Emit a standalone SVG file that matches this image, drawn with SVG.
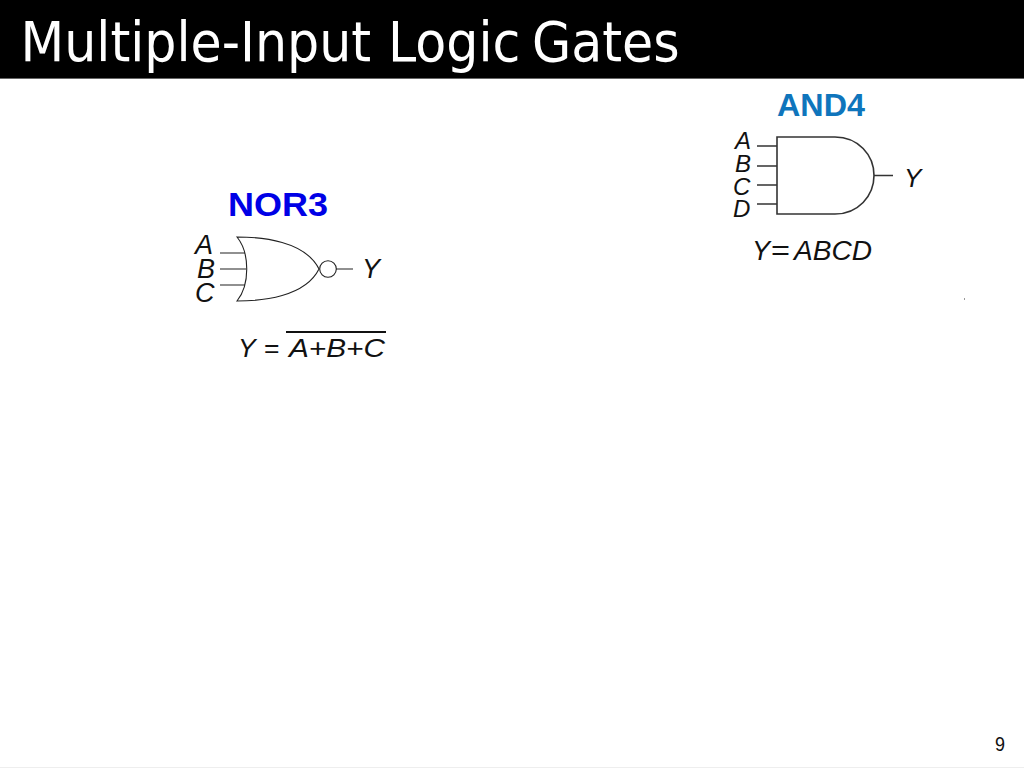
<svg xmlns="http://www.w3.org/2000/svg" width="1024" height="768" viewBox="0 0 1024 768">
<style>
.t{font-family:"Liberation Sans",Arial,sans-serif}
.i{font-family:"Liberation Sans",Arial,sans-serif;font-style:italic;fill:#111}
.n{fill:none;stroke:#222;stroke-width:1.1}
.a{fill:none;stroke:#333;stroke-width:1.6}
</style>
<rect width="1024" height="768" fill="#fff"/>
<g id="title">
<rect width="1024" height="78" fill="#000"/>
<rect y="78" width="1024" height="1" fill="#666"/>
<text transform="scale(.905,1)" y="61" font-family="'DejaVu Sans',Verdana,sans-serif" font-size="56" fill="#fff"><tspan x="22.650">Multiple-Input </tspan><tspan x="428.700">Logic </tspan><tspan x="587.800">Gates</tspan></text>
</g>
<g id="connectors">
<path class="n" d="M220 253H245M220 269H246M220 285H245M336 269H353"/>
<path class="a" d="M757 146H777M757 166H777M757 185H777M757 204H777M874 175.500H893"/>
</g>
<g id="nor3">
<text class="t" x="228" y="216" font-size="34" font-weight="700" fill="#0000e6" textLength="100" lengthAdjust="spacingAndGlyphs">NOR3</text>
<text class="i" x="195" y="254" font-size="27">A</text>
<text class="i" x="197" y="278" font-size="27">B</text>
<text class="i" x="195" y="302" font-size="27">C</text>
<path class="n" d="M237 237C262 237 305 241 319 269C305 297 262 301 237 301C250 285 250 253 237 237Z"/>
<circle class="n" cx="328" cy="269" r="8.300"/>
<text class="i" x="362" y="278" font-size="27">Y</text>
<text class="i" x="238" y="357" font-size="26.500">Y</text>
<text class="t" x="264" y="357" font-size="26.500" fill="#111">=</text>
<text class="i" x="289" y="357" font-size="26.500" textLength="96" lengthAdjust="spacingAndGlyphs">A+B+C</text>
<rect x="286" y="331" width="100" height="2" fill="#111"/>
</g>
<g id="and4">
<text class="t" x="777" y="116" font-size="32" font-weight="700" fill="#0f75bc" textLength="88" lengthAdjust="spacingAndGlyphs">AND4</text>
<text class="i" x="735" y="149" font-size="24">A</text>
<text class="i" x="735" y="172" font-size="24">B</text>
<text class="i" x="733" y="195" font-size="24">C</text>
<text class="i" x="733" y="217" font-size="24">D</text>
<path class="a" d="M777 137H835C858 137 874 155 874 175.500C874 196 858 214 835 214H777Z"/>
<text class="i" x="904" y="187" font-size="26">Y</text>
<text class="i" x="752" y="260" font-size="27">Y</text>
<text class="t" x="771" y="260" font-size="27" fill="#111" textLength="19" lengthAdjust="spacingAndGlyphs">=</text>
<text class="i" x="794" y="260" font-size="27" textLength="78" lengthAdjust="spacingAndGlyphs">ABCD</text>
<rect x="964" y="298" width="1" height="2" fill="#999"/>
</g>
<g id="page">
<text class="t" x="995" y="751" font-size="21" fill="#111" textLength="10" lengthAdjust="spacingAndGlyphs">9</text>
<rect y="767" width="1024" height="1" fill="#eee"/>
</g>
</svg>
